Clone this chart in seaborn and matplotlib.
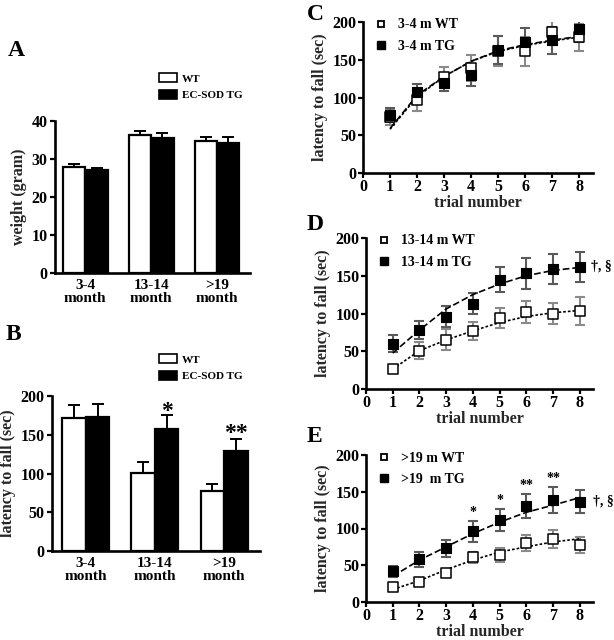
import matplotlib
matplotlib.use('Agg')
import matplotlib.pyplot as plt
from matplotlib.patches import Patch
from matplotlib.lines import Line2D
import seaborn as sns
import pandas as pd
import numpy as np

# --- data ---
age_groups = ['3-4\nmonth', '13-14\nmonth', '>19\nmonth']
genotypes = ['WT', 'EC-SOD TG']

weight_wt = [28.0, 36.3, 34.8]
weight_wt_err = [0.7, 1.2, 1.0]
weight_tg = [27.1, 35.6, 34.3]
weight_tg_err = [0.6, 1.3, 1.5]

rotarod_wt = [172, 101, 77]
rotarod_wt_err = [17, 14, 10]
rotarod_tg = [173, 157, 129.5]
rotarod_tg_err = [17, 18, 15]
rotarod_stars = ['', '*', '**']
rotarod_star_y = [0, 180, 152]

trials = [1, 2, 3, 4, 5, 6, 7, 8]

c_wt = [74, 97, 127, 139, 162, 161, 187, 180]
c_wt_err = [10, 15, 14, 17, 20, 19, 18, 18]
c_tg = [77, 107, 119, 130, 163, 174, 176, 191]
c_tg_err = [9, 11, 11, 15, 19, 18, 18, 18]
c_fit_wt = [58, 101, 128, 148, 161, 169, 175, 180]
c_fit_tg = [59, 103, 128, 148, 162, 170, 176, 181]

d_wt = [26.4, 50.7, 65.2, 77, 94, 102, 100, 103.5]
d_wt_err = [3, 11, 14, 12, 13, 15, 14, 19]
d_tg = [60, 78.4, 96, 113, 145, 153, 159, 162]
d_tg_err = [11, 12, 14, 14, 17, 20, 20, 20]
d_fit_wt = [26.4, 50.7, 65, 77, 88, 96, 101, 104]
d_fit_tg = [47.6, 78, 106, 125, 139, 150, 157, 161]

e_wt = [20, 26.8, 38.8, 60.7, 63.8, 80.4, 85.3, 77.2]
e_wt_err = [3, 3, 4, 8, 9, 11, 12, 11]
e_tg = [41.5, 58, 72.8, 96, 112, 130.8, 138.8, 136.6]
e_tg_err = [8, 10, 11, 14, 15, 16, 18, 16]
e_fit_wt = [17, 29, 44, 57, 68, 75, 81.7, 86]
e_fit_tg = [35, 57, 75, 93, 108.5, 122, 131.7, 142]
e_stars = ['', '', '', '*', '*', '**', '**', '']
e_star_y = [0, 0, 0, 122, 138, 158, 168, 0]

sns.set_theme(style='ticks')
plt.rcParams['font.family'] = ['Liberation Serif', 'DejaVu Serif']
plt.rcParams['font.weight'] = 'bold'
plt.rcParams['axes.labelweight'] = 'bold'
plt.rcParams['axes.linewidth'] = 1.9
plt.rcParams['xtick.major.width'] = 1.6
plt.rcParams['ytick.major.width'] = 1.6
plt.rcParams['xtick.major.size'] = 3.5
plt.rcParams['ytick.major.size'] = 3.5
plt.rcParams['xtick.labelsize'] = 11.5
plt.rcParams['ytick.labelsize'] = 11.5
plt.rcParams['text.color'] = 'black'
plt.rcParams['xtick.color'] = 'black'
plt.rcParams['ytick.color'] = 'black'
plt.rcParams['axes.edgecolor'] = 'black'

fig = plt.figure(figsize=(6.14, 6.4), dpi=100)
W, H = 614, 640


def px_axes(left, top, right, bottom):
    return fig.add_axes([left / W, 1 - bottom / H, (right - left) / W, (bottom - top) / H])


def bar_panel(ax, wt, wt_err, tg, tg_err, ylim, yticks, ylabel, xlim):
    df = pd.DataFrame({
        'group': age_groups * 2,
        'genotype': ['WT'] * 3 + ['EC-SOD TG'] * 3,
        'value': wt + tg,
    })
    sns.barplot(data=df, x='group', y='value', hue='genotype', hue_order=genotypes,
                palette={'WT': 'white', 'EC-SOD TG': 'black'}, edgecolor='black',
                linewidth=1.6, width=0.68, gap=0, errorbar=None, legend=False, ax=ax)
    for cont, err in zip(ax.containers, [wt_err, tg_err]):
        xs = [b.get_x() + b.get_width() / 2 for b in cont]
        hs = [b.get_height() for b in cont]
        ax.errorbar(xs, hs, yerr=[np.zeros(len(err)), err], fmt='none', ecolor='black',
                    elinewidth=1.4, capsize=4, capthick=1.4, zorder=1)
    ax.set_ylim(*ylim)
    ax.set_yticks(yticks)
    ax.set_xlim(*xlim)
    ax.set_xlabel('')
    ax.set_ylabel(ylabel, fontsize=11.5, labelpad=3)
    ax.tick_params(axis='x', length=0, labelsize=11, pad=4)
    ax.tick_params(axis='y', pad=2)
    for lab in ax.get_xticklabels():
        lab.set_linespacing(1.0)
    sns.despine(ax=ax)
    handles = [Patch(facecolor='white', edgecolor='black', linewidth=1.2, label='WT'),
               Patch(facecolor='black', edgecolor='black', linewidth=1.2, label='EC-SOD TG')]
    return handles


def line_panel(ax, wt, wt_err, tg, tg_err, fit_wt, fit_tg, labels):
    ax.errorbar(trials, wt, yerr=wt_err, fmt='none', ecolor='#8a8a8a', elinewidth=1.5,
                capsize=3.6, capthick=1.5, zorder=1)
    ax.errorbar(trials, tg, yerr=tg_err, fmt='none', ecolor='#5a5a5a', elinewidth=1.5,
                capsize=3.6, capthick=1.5, zorder=1)
    fits = pd.DataFrame({'trial': trials * 2, 'fit': fit_wt + fit_tg,
                         'group': ['WT'] * 8 + ['TG'] * 8})
    sns.lineplot(data=fits, x='trial', y='fit', style='group', style_order=['TG', 'WT'],
                 dashes={'TG': (4, 1.8), 'WT': (1.6, 1.2)}, color='black', linewidth=1.2,
                 legend=False, ax=ax, zorder=2)
    sns.scatterplot(x=trials, y=wt, marker='s', s=42, facecolor='white', edgecolor='black',
                    linewidth=1.1, ax=ax, zorder=3)
    sns.scatterplot(x=trials, y=tg, marker='s', s=42, color='black', edgecolor='black',
                    linewidth=0.8, ax=ax, zorder=4)
    ax.set_xlim(0, 8.5)
    ax.set_ylim(0, 200)
    ax.set_xticks(range(0, 9))
    ax.set_yticks([0, 50, 100, 150, 200])
    ax.set_xlabel('trial number', fontsize=11.5, labelpad=0)
    ax.set_ylabel('latency to fall (sec)', fontsize=11.5, labelpad=3)
    ax.tick_params(axis='x', pad=1)
    ax.tick_params(axis='y', pad=1)
    sns.despine(ax=ax)
    handles = [Line2D([], [], marker='s', ls='none', mfc='white', mec='black', mew=1.3,
                      ms=4.5, label=labels[0]),
               Line2D([], [], marker='s', ls='none', mfc='black', mec='black', ms=5.5,
                      label=labels[1])]
    ax.legend(handles=handles, loc='upper left', bbox_to_anchor=(0.03, 1.06), frameon=False,
              fontsize=10, handlelength=0.8, handletextpad=0.8, labelspacing=0.6,
              borderaxespad=0)


# Panel A
axA = px_axes(55, 121, 250, 273)
hA = bar_panel(axA, weight_wt, weight_wt_err, weight_tg, weight_tg_err, (0, 40),
               [0, 10, 20, 30, 40], 'weight (gram)', (-0.46, 2.5))
axA.legend(handles=hA, loc='upper left', bbox_to_anchor=(155 / W, 1 - 69 / H),
           bbox_transform=fig.transFigure, frameon=False, fontsize=8,
           handlelength=1.6, handleheight=0.8, handletextpad=0.4, labelspacing=0.6, borderaxespad=0)

# Panel B
axB = px_axes(52, 396, 260, 551)
hB = bar_panel(axB, rotarod_wt, rotarod_wt_err, rotarod_tg, rotarod_tg_err, (0, 200),
               [0, 50, 100, 150, 200], 'latency to fall (sec)', (-0.49, 2.52))
axB.legend(handles=hB, loc='upper left', bbox_to_anchor=(155 / W, 1 - 350 / H),
           bbox_transform=fig.transFigure, frameon=False, fontsize=8,
           handlelength=1.6, handleheight=0.8, handletextpad=0.4, labelspacing=0.6, borderaxespad=0)
tg_bars = axB.containers[1]
for bar, star, sy in zip(tg_bars, rotarod_stars, rotarod_star_y):
    if star:
        axB.text(bar.get_x() + bar.get_width() / 2, sy, star, ha='center', va='center',
                 fontsize=17, fontweight='bold')

# Panel C
axC = px_axes(363, 22, 593, 173)
line_panel(axC, c_wt, c_wt_err, c_tg, c_tg_err, c_fit_wt, c_fit_tg, ['3-4 m WT', '3-4 m TG'])

# Panel D
axD = px_axes(366, 238, 593, 389)
line_panel(axD, d_wt, d_wt_err, d_tg, d_tg_err, d_fit_wt, d_fit_tg, ['13-14 m WT', '13-14 m TG'])
axD.text(8.42, 163, '\u2020, \u00a7', ha='left', va='center', fontsize=10, clip_on=False)

# Panel E
axE = px_axes(366, 455, 593, 602)
line_panel(axE, e_wt, e_wt_err, e_tg, e_tg_err, e_fit_wt, e_fit_tg, ['>19 m WT', '>19  m TG'])
axE.text(8.5, 137, '\u2020, \u00a7', ha='left', va='center', fontsize=10, clip_on=False)
for t, star, sy in zip(trials, e_stars, e_star_y):
    if star:
        axE.text(t, sy, star, ha='center', va='center', fontsize=10, fontweight='bold')

# panel letters
for letter, x, y in [('A', 8, 50), ('B', 6, 335), ('C', 307, 14), ('D', 307, 224), ('E', 307, 437)]:
    fig.text(x / W, 1 - y / H, letter, fontsize=17, fontweight='bold', ha='left', va='center')

fig.savefig('out.png', dpi=100, facecolor='white')
